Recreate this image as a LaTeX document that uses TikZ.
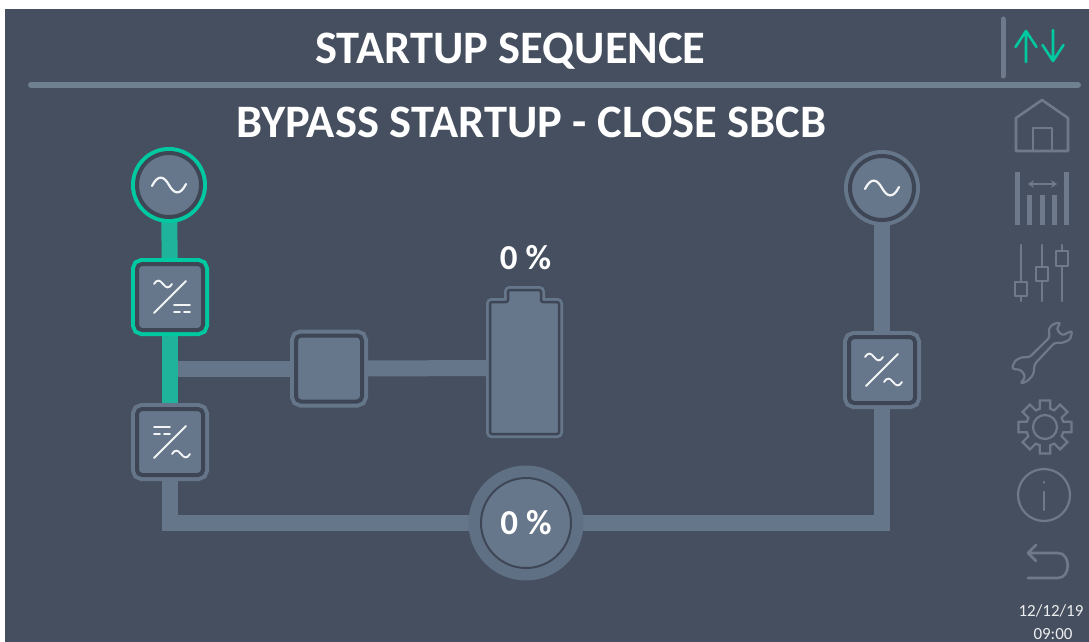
\documentclass[tikz,border=0pt]{standalone}
\usepackage{fontspec}
\setmainfont{Carlito}
\usetikzlibrary{arrows.meta}
\definecolor{bgc}{HTML}{464F5F}
\definecolor{gapc}{HTML}{3E4656}
\definecolor{pipec}{HTML}{65768A}
\definecolor{fillc}{HTML}{66778B}
\definecolor{teal}{HTML}{00C8A0}
\definecolor{tealp}{HTML}{1FB39C}
\definecolor{iconc}{HTML}{6E7A8C}
\definecolor{linec}{HTML}{6F8090}
\definecolor{loadc}{HTML}{5F7085}
\pgfdeclarelayer{pipes}
\pgfsetlayers{pipes,main}
\tikzset{
  x=1pt,y=-1pt,
  ringsrc/.style={circle,inner sep=0pt,outer sep=0pt,minimum size=64pt,fill=fillc,draw=gapc,line width=4pt,preaction={draw=#1,line width=12pt}},
  ringbox/.style={rectangle,inner sep=0pt,outer sep=0pt,minimum size=66pt,rounded corners=5pt,fill=fillc,draw=gapc,line width=4pt,preaction={draw=#1,line width=12pt}},
  pipe/.style={draw=pipec,line width=16pt},
  tealpipe/.style={draw=tealp,line width=16pt},
  icon/.style={draw=iconc,line width=2.6pt,line cap=round,line join=round},
  glyph/.style={draw=white!92!fillc,line width=1.9pt,line cap=round},
  head/.style={text=white,font=\bfseries\fontsize{46.5}{46.5}\selectfont,inner sep=0pt},
  pct/.style={text=white,font=\bfseries\fontsize{35}{35}\selectfont,inner sep=0pt},
  stamp/.style={text=white!90!bgc,font=\fontsize{17}{17}\selectfont,inner sep=0pt},
  bigwave/.pic={\draw[glyph,line width=2.2pt] (-17,1) .. controls (-11,-11) and (-5,-9) .. (0,0) .. controls (5,9) and (11,11) .. (17,-1);},
  smallwave/.pic={\draw[glyph] (-9,0) .. controls (-6,-5) and (-3,-4) .. (0,0) .. controls (3,4) and (6,5) .. (9,0);},
  dcmark/.pic={\draw[glyph] (-8,-3.5) -- (8,-3.5); \draw[glyph] (-8,3.5) -- (-2,3.5); \draw[glyph] (2,3.5) -- (8,3.5);},
  slash/.pic={\draw[glyph] (-16,16) -- (16,-16);}
}
\begin{document}
\begin{tikzpicture}
\useasboundingbox (0,0) rectangle (1089,642);
\begin{pgfonlayer}{pipes}
\fill[white] (0,0) rectangle (1089,642);
\fill[bgc] (5,9) rectangle (1089,642);
\end{pgfonlayer}

\node[head] (title) at (510.5,51) {STARTUP SEQUENCE};
\node[head] (subtitle) at (531.5,122) {BYPASS STARTUP - CLOSE SBCB};

\node[ringsrc=teal] (srcL) at (169,185) {};
\node[ringbox=teal] (recL) at (170,297) {};
\node[ringbox=pipec] (invL) at (170,442) {};
\node[ringbox=pipec] (chop) at (329,368.5) {};
\node[ringsrc=pipec] (srcR) at (882,188) {};
\node[ringbox=pipec] (bypR) at (882,370) {};
\node[circle,inner sep=0pt,outer sep=0pt,minimum size=90pt,fill=fillc,draw=gapc,line width=2pt,preaction={draw=loadc,line width=25pt},pct] (load) at (526,523) {0 \%};
\node[rectangle,inner sep=0pt,minimum width=77pt,minimum height=140pt] (batt) at (524.5,368) {};
\node[pct] (battpct) at (525.5,258) {0 \%};

% battery outline
\draw[fill=fillc,draw=gapc,line width=2.5pt,rounded corners=2pt,line join=round,preaction={draw=pipec,line width=8pt}]
  (490,302) -- (508,302) -- (508,290) -- (541,290) -- (541,302) -- (559,302) -- (559,434) -- (490,434) -- cycle;

\begin{pgfonlayer}{pipes}
\draw[pipe] (recL.center |- chop) -- (chop);
\draw[pipe] (chop) -- (batt);
\draw[pipe] (invL) |- (load);
\draw[pipe] (load) -| (bypR);
\draw[pipe] (srcR) -- (bypR);
\draw[tealpipe] (srcL) -- (recL);
\draw[tealpipe] (recL) -- (invL);
\end{pgfonlayer}

% glyphs
\pic at (srcL) {bigwave};
\pic at (srcR) {bigwave};
\pic at (recL) {slash};
\pic at ([shift={(-7,-13)}]recL.center) {smallwave};
\pic at ([shift={(12,11.5)}]recL.center) {dcmark};
\pic at (invL) {slash};
\pic at ([shift={(-8,-11.5)}]invL.center) {dcmark};
\pic at ([shift={(11,12)}]invL.center) {smallwave};
\pic at (bypR) {slash};
\pic at ([shift={(-8,-13)}]bypR.center) {smallwave};
\pic at ([shift={(11,12)}]bypR.center) {smallwave};

% header lines
\draw[draw=linec,line width=6pt,line cap=round] (31,85) -- (1078,85);
\draw[draw=iconc,line width=5pt,line cap=round] (1003,19) -- (1003,76);
\draw[draw=teal,line width=2.6pt,line cap=round,line join=round] (1026,62) -- (1026,31) (1015.5,47) -- (1026,31) -- (1036.5,47);
\draw[draw=teal,line width=2.6pt,line cap=round,line join=round] (1053,30) -- (1053,61) (1042.5,45) -- (1053,61) -- (1063.5,45);

% home
\draw[icon] (1016,151) -- (1016,118) -- (1042,100) -- (1068,118) -- (1068,151) -- cycle;
\draw[icon] (1033,151) -- (1033,128) -- (1052,128) -- (1052,151);
% meters
\draw[draw=iconc,line width=5pt] (1017,172) -- (1017,225) (1066,172) -- (1066,225);
\draw[draw=iconc,line width=5pt] (1029,195) -- (1029,225) (1042,195) -- (1042,225) (1054,195) -- (1054,225);
\draw[draw=iconc,line width=2.4pt,{Stealth[length=6pt,width=8pt]}-{Stealth[length=6pt,width=8pt]}] (1028,184) -- (1057,184);
% sliders
\draw[icon,line width=2.2pt] (1021,245) -- (1021,282) (1021,296) -- (1021,301);
\draw[icon,line width=2.2pt] (1015,282) rectangle (1027,296);
\draw[icon,line width=2.2pt] (1042,245) -- (1042,267) (1042,281) -- (1042,301);
\draw[icon,line width=2.2pt] (1036,267) rectangle (1048,281);
\draw[icon,line width=2.2pt] (1062,245) -- (1062,251) (1062,266) -- (1062,301);
\draw[icon,line width=2.2pt] (1056,251) rectangle (1068,266);
% wrench
\begin{scope}[shift={(1005,315)},x=0.3333pt,y=-0.3333pt]
\draw[icon,rounded corners=3pt,line width=2.2pt]
 (168,22) -- (154,42) -- (172,62) -- (202,46) -- (196,74) -- (168,85) -- (150,82)
 -- (88,148) -- (86,178) -- (66,200) -- (45,206) -- (62,186) -- (48,164) -- (20,162)
 -- (30,136) -- (55,125) -- (72,128) -- (135,66) -- (130,42) -- (145,26) -- cycle;
\end{scope}
% gear
\begin{scope}[shift={(1045,427)}]
\draw[icon,line width=2.2pt,line cap=butt,line join=miter]
  (-11:27) -- (11:27) -- (16:19) -- (29:19)
  -- (34:27) -- (56:27) -- (61:19) -- (74:19)
  -- (79:27) -- (101:27) -- (106:19) -- (119:19)
  -- (124:27) -- (146:27) -- (151:19) -- (164:19)
  -- (169:27) -- (191:27) -- (196:19) -- (209:19)
  -- (214:27) -- (236:27) -- (241:19) -- (254:19)
  -- (259:27) -- (281:27) -- (286:19) -- (299:19)
  -- (304:27) -- (326:27) -- (331:19) -- (344:19) -- cycle;
\draw[icon,line width=2.2pt] (0,0) circle[radius=12];
\end{scope}
% info
\draw[icon,line width=2.2pt] (1044,495) circle[radius=26];
\draw[icon,line width=2.4pt] (1044,482) -- (1044,482.6) (1044,492) -- (1044,510);
% back
\draw[icon] (1028,553) -- (1058,553) .. controls (1071,553) and (1071,578) .. (1058,578) -- (1028,578);
\draw[icon] (1036,545) -- (1028,553) -- (1036,561);

\node[stamp] (dateL) at (1051,611) {12/12/19};
\node[stamp] (timeL) at (1053,634) {09:00};
\end{tikzpicture}
\end{document}
